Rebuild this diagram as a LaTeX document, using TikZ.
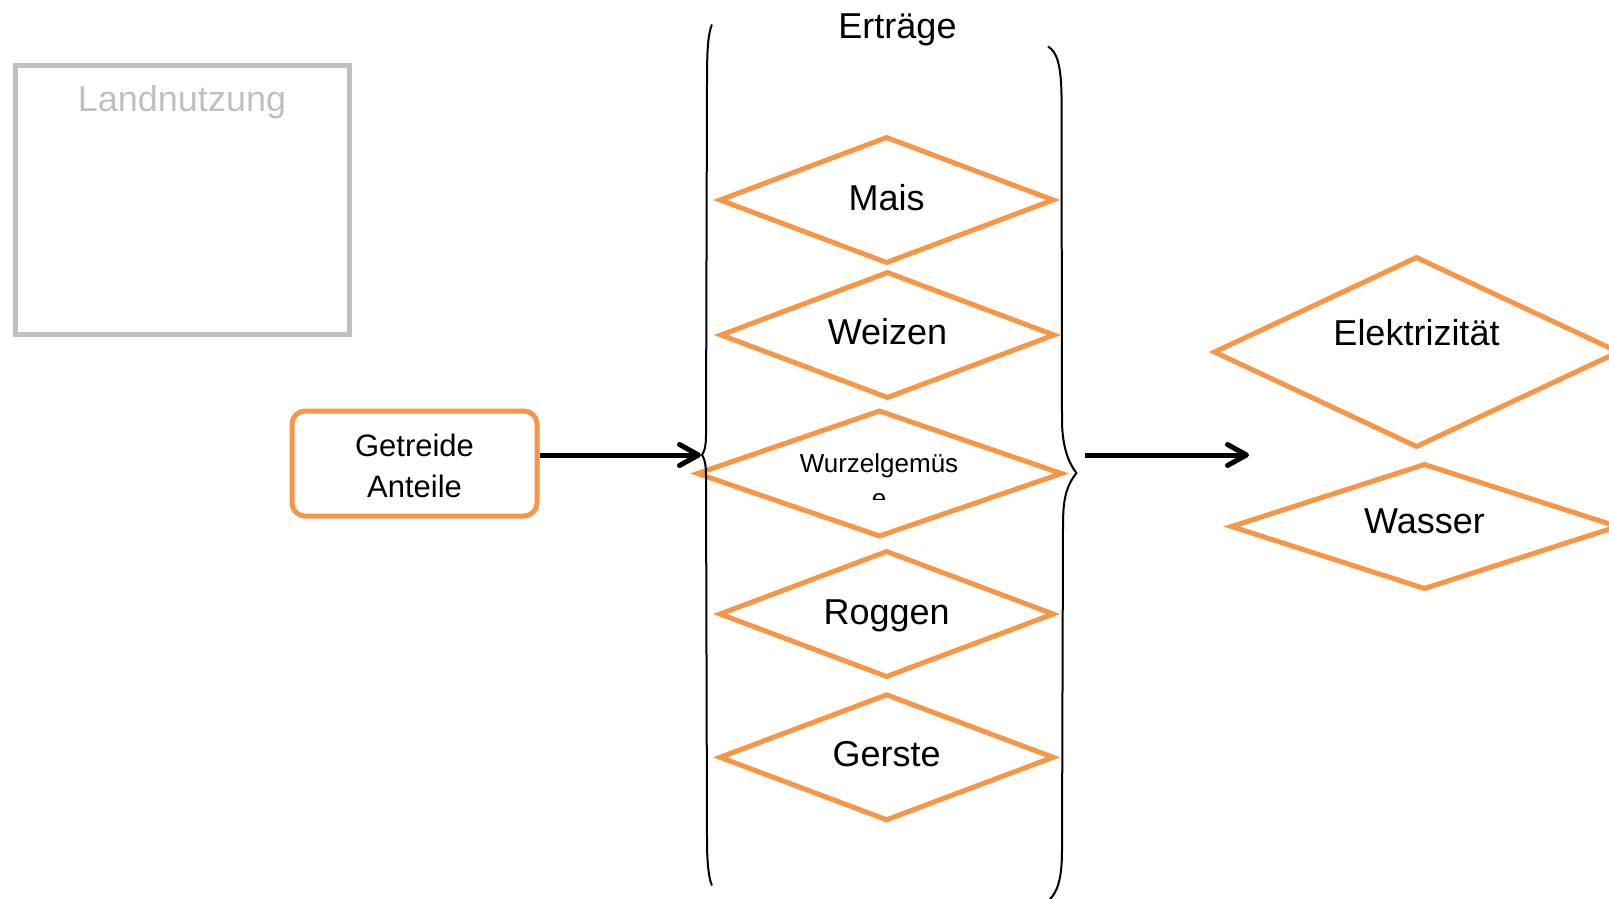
\documentclass[tikz,border=0pt]{standalone}
\usepackage{fontspec}
\setmainfont{Liberation Sans}
\usetikzlibrary{shapes.geometric,arrows.meta,calc}
\definecolor{accent}{RGB}{247,150,70}
\definecolor{frame}{RGB}{192,192,192}
\begin{document}
\begin{tikzpicture}[x=1pt,y=-1pt,
  cropbox/.style={diamond,draw=accent,line width=5pt,inner sep=0pt,
    minimum width=335pt,minimum height=127pt},
  txt/.style={inner sep=0pt,anchor=base,font=\fontsize{36}{43}\selectfont},
  brace/.style={line width=2pt,line cap=round,line join=round},
  conn/.style={line width=5pt,-{Straight Barb[length=19pt,width=21pt,round]}}
]
\useasboundingbox (0,0) rectangle (1609,898);

% land use panel
\node[draw=frame,line width=5pt,inner sep=0pt,minimum width=334pt,minimum height=269pt]
  (land) at (182.5,200) {};
\node[txt,text=frame] (landT) at (182,111.7) {Landnutzung};

% grain shares
\node[draw=accent,line width=5pt,rounded corners=13pt,inner sep=0pt,
  minimum width=245pt,minimum height=105pt] (grain) at (414.5,463.5) {};
\node[align=center,inner sep=0pt,font=\fontsize{31}{41}\selectfont]
  (grainT) at (414.5,466) {Getreide\\Anteile};

% yields column
\node[txt] (yieldT) at (897.5,38.3) {Erträge};
\node[cropbox] (mais) at (886.6,200) {};
\node[txt] (maisT) at (886.6,210.4) {Mais};
\node[cropbox] (weizen) at (887.5,335) {};
\node[txt] (weizenT) at (887.5,344.8) {Weizen};
\node[cropbox,minimum width=366pt] (wurzel) at (879.5,473.5) {};
\node[txt,font=\fontsize{26}{31}\selectfont] (wurzelT) at (879,472.5) {Wurzelgemüs};
\begin{scope}
  \clip (700,480) rectangle (1060,499);
  \node[txt,font=\fontsize{26}{31}\selectfont] (wurzelE) at (879,507.5) {e};
\end{scope}
\node[cropbox] (roggen) at (886.6,614) {};
\node[txt] (roggenT) at (886.6,624) {Roggen};
\node[cropbox] (gerste) at (886.6,757.3) {};
\node[txt] (gersteT) at (886.6,766.5) {Gerste};

% resources
\node[cropbox,minimum width=406pt,minimum height=191pt] (strom) at (1416.5,352) {};
\node[txt] (stromT) at (1416.5,345.5) {Elektrizität};
\node[cropbox,minimum width=388pt,minimum height=126pt] (wasser) at (1424.5,526.5) {};
\node[txt] (wasserT) at (1424.5,533) {Wasser};

% braces around the yields
\draw[brace] (711.7,25) .. controls (708,35) and (707,50) .. (707,80)
  -- (706,435) .. controls (706,447) and (704,452) .. (702,455)
  .. controls (704,458) and (706,463) .. (706,475)
  -- (707,840) .. controls (707,865) and (709,878) .. (711.7,885);
\draw[brace] (1048.3,46.7) .. controls (1057,52) and (1061,65) .. (1061.5,95)
  -- (1062,420) .. controls (1062,440) and (1066,460) .. (1076.5,473)
  .. controls (1066,486) and (1063,500) .. (1063,525)
  -- (1062,850) .. controls (1062,880) and (1057,892) .. (1050,899);

% flows
\coordinate (inTip) at (701,455);
\coordinate (outStart) at (1085,455);
\coordinate (outEnd) at (1249,455);
\draw[conn] ($(grain.east)+(0,-8.5)$) -- (inTip);
\draw[conn] (outStart) -- (outEnd);
\end{tikzpicture}
\end{document}
